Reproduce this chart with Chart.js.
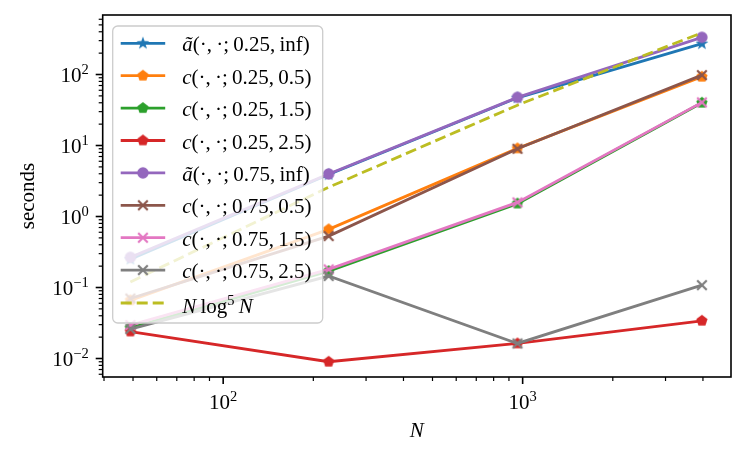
<!DOCTYPE html>
<html>
<head>
<meta charset="utf-8">
<script src="https://cdn.jsdelivr.net/npm/chart.js@4.4.1/dist/chart.umd.min.js"></script>
<style>
html, body { margin: 0; padding: 0; background: #fff; }
#plot { display: block; }
</style>
</head>
<body>
<canvas id="plot" width="747" height="456"></canvas>
<script>
// problem sizes N
var sizes = [49, 225, 961, 3969];

// timings in seconds, one array per curve
var aTilde025 = [0.25, 3.9, 47, 272];
var c025_05 = [0.066, 0.66, 9.1, 93];
var c025_15 = [0.027, 0.17, 1.52, 40];
var c025_25 = [0.024, 0.0090, 0.0163, 0.034];
var aTilde075 = [0.266, 3.97, 47.7, 334];
var c075_05 = [0.070, 0.53, 9.0, 98];
var c075_15 = [0.0296, 0.18, 1.58, 40.5];
var c075_25 = [0.026, 0.145, 0.0163, 0.108];
var nLog5N = [0.12, 2.58, 37, 388];

// axis ticks (labels are 10^exp)
var xTickValues = [100, 1000];
var xTickExps = ["2", "3"];
var yTickValues = [0.01, 0.1, 1, 10, 100];
var yTickExps = ["\u22122", "\u22121", "0", "1", "2"];

var FONT = '"Liberation Serif", "DejaVu Serif", serif';
var FS = 21;
var SUP = 14.5;

function makeMarker(kind, color) {
    var c = document.createElement("canvas");
    c.width = 18; c.height = 18;
    var g = c.getContext("2d");
    g.translate(9, 9);
    g.fillStyle = color;
    g.strokeStyle = color;
    g.lineJoin = "miter";
    var i, a, r;
    if (kind === "star") {
        g.beginPath();
        for (i = 0; i < 10; i++) {
            a = -Math.PI / 2 + i * Math.PI / 5;
            r = (i % 2 === 0) ? 6.8 : 2.7;
            g.lineTo(r * Math.cos(a), r * Math.sin(a));
        }
        g.closePath();
        g.fill();
    } else if (kind === "pentagon") {
        g.beginPath();
        for (i = 0; i < 5; i++) {
            a = -Math.PI / 2 + i * 2 * Math.PI / 5;
            g.lineTo(5.9 * Math.cos(a), 5.9 * Math.sin(a));
        }
        g.closePath();
        g.fill();
    } else if (kind === "circle") {
        g.beginPath();
        g.arc(0, 0, 5.7, 0, Math.PI * 2);
        g.fill();
    } else {
        g.lineWidth = 2.2;
        g.beginPath();
        g.moveTo(-4.8, -4.8); g.lineTo(4.8, 4.8);
        g.moveTo(-4.8, 4.8); g.lineTo(4.8, -4.8);
        g.stroke();
    }
    return c;
}

function serie(label, values, color, kind, parts) {
    return {
        label: label,
        data: sizes.map(function (n, i) { return { x: n, y: values[i] }; }),
        borderColor: color,
        backgroundColor: color,
        borderWidth: 2.8,
        pointStyle: kind ? makeMarker(kind, color) : false,
        pointRadius: kind ? 5 : 0,
        parts: parts,
        kind: kind
    };
}

var datasets = [
    serie("ã(·,·;0.25,inf)", aTilde025, "#1f77b4", "star", [["ã", 1], ["(·,\u2009·;\u20090.25,\u2009inf)", 0]]),
    serie("c(·,·;0.25,0.5)", c025_05, "#ff7f0e", "pentagon", [["c", 1], ["(·,\u2009·;\u20090.25,\u20090.5)", 0]]),
    serie("c(·,·;0.25,1.5)", c025_15, "#2ca02c", "pentagon", [["c", 1], ["(·,\u2009·;\u20090.25,\u20091.5)", 0]]),
    serie("c(·,·;0.25,2.5)", c025_25, "#d62728", "pentagon", [["c", 1], ["(·,\u2009·;\u20090.25,\u20092.5)", 0]]),
    serie("ã(·,·;0.75,inf)", aTilde075, "#9467bd", "circle", [["ã", 1], ["(·,\u2009·;\u20090.75,\u2009inf)", 0]]),
    serie("c(·,·;0.75,0.5)", c075_05, "#8c564b", "x", [["c", 1], ["(·,\u2009·;\u20090.75,\u20090.5)", 0]]),
    serie("c(·,·;0.75,1.5)", c075_15, "#e377c2", "x", [["c", 1], ["(·,\u2009·;\u20090.75,\u20091.5)", 0]]),
    serie("c(·,·;0.75,2.5)", c075_25, "#7f7f7f", "x", [["c", 1], ["(·,\u2009·;\u20090.75,\u20092.5)", 0]]),
    serie("N log^5 N", nLog5N, "#bcbd22", null, [["N", 1], ["\u2009log", 0], ["5", 2], ["\u2009", 0], ["N", 1]])
];
datasets[8].borderDash = [11, 5];
// later curves on top, like the original
datasets.forEach(function (d, i) { d.order = datasets.length - i; });

function setFont(ctx, kind) {
    if (kind === 1) ctx.font = "italic " + FS + "px " + FONT;
    else if (kind === 2) ctx.font = SUP + "px " + FONT;
    else ctx.font = FS + "px " + FONT;
}

function partsWidth(ctx, parts) {
    var w = 0;
    parts.forEach(function (p) { setFont(ctx, p[1]); w += ctx.measureText(p[0]).width; });
    return w;
}

function drawParts(ctx, parts, x, base) {
    parts.forEach(function (p) {
        setFont(ctx, p[1]);
        ctx.fillText(p[0], x, p[1] === 2 ? base - 8 : base);
        x += ctx.measureText(p[0]).width;
    });
}

var decor = {
    id: "decor",
    afterDraw: function (chart) {
        var ctx = chart.ctx;
        var area = chart.chartArea;
        var xs = chart.scales.x, ys = chart.scales.y;
        ctx.save();
        ctx.fillStyle = "#000";
        ctx.strokeStyle = "#000";
        ctx.textBaseline = "alphabetic";
        ctx.textAlign = "left";

        // minor and major ticks
        var d, k, v, p;
        for (d = -3; d <= 3; d++) {
            for (k = 1; k <= 9; k++) {
                v = k * Math.pow(10, d);
                if (v >= xs.min && v <= xs.max) {
                    p = xs.getPixelForValue(v);
                    ctx.lineWidth = k === 1 ? 1.6 : 1.2;
                    ctx.beginPath();
                    ctx.moveTo(p, area.bottom);
                    ctx.lineTo(p, area.bottom + (k === 1 ? 7 : 4));
                    ctx.stroke();
                }
                if (v >= ys.min && v <= ys.max) {
                    p = ys.getPixelForValue(v);
                    ctx.lineWidth = k === 1 ? 1.6 : 1.2;
                    ctx.beginPath();
                    ctx.moveTo(area.left, p);
                    ctx.lineTo(area.left - (k === 1 ? 7 : 4), p);
                    ctx.stroke();
                }
            }
        }

        // tick labels
        xTickValues.forEach(function (val, i) {
            var parts = [["10", 0], [xTickExps[i], 2]];
            var w = partsWidth(ctx, parts);
            drawParts(ctx, parts, xs.getPixelForValue(val) - w / 2, area.bottom + 32);
        });
        yTickValues.forEach(function (val, i) {
            var parts = [["10", 0], [yTickExps[i], 2]];
            var w = partsWidth(ctx, parts);
            drawParts(ctx, parts, area.left - 14 - w, ys.getPixelForValue(val) + 7.5);
        });

        // axis titles
        setFont(ctx, 1);
        ctx.textAlign = "center";
        ctx.fillText("N", (area.left + area.right) / 2, area.bottom + 60);
        setFont(ctx, 0);
        ctx.save();
        ctx.translate(34, (area.top + area.bottom) / 2);
        ctx.rotate(-Math.PI / 2);
        ctx.fillText("seconds", 0, 0);
        ctx.restore();
        ctx.textAlign = "left";

        // frame
        ctx.lineWidth = 1.6;
        ctx.strokeRect(area.left, area.top, area.right - area.left, area.bottom - area.top);

        // legend
        var lx = area.left + 10, ly = area.top + 11, lw = 210, lh = 297;
        ctx.beginPath();
        ctx.roundRect(lx, ly, lw, lh, 5);
        ctx.fillStyle = "rgba(255,255,255,0.8)";
        ctx.fill();
        ctx.lineWidth = 1.3;
        ctx.strokeStyle = "#cccccc";
        ctx.stroke();
        datasets.forEach(function (ds, i) {
            var ry = i < 8 ? ly + 17.3 + i * 32.4 : ly + 277;
            ctx.strokeStyle = ds.borderColor;
            ctx.lineWidth = ds.borderWidth;
            ctx.setLineDash(ds.borderDash || []);
            ctx.beginPath();
            ctx.moveTo(lx + 8, ry);
            ctx.lineTo(lx + 52.5, ry);
            ctx.stroke();
            ctx.setLineDash([]);
            if (ds.kind) {
                var img = ds.pointStyle;
                ctx.drawImage(img, lx + 30.2 - img.width / 2, ry - img.height / 2);
            }
            ctx.fillStyle = "#000";
            drawParts(ctx, ds.parts, lx + 69.5, ry + (i < 8 ? 8 : 10));
        });
        ctx.restore();
    }
};

new Chart(document.getElementById("plot").getContext("2d"), {
    type: "line",
    data: { datasets: datasets },
    options: {
        responsive: false,
        animation: false,
        events: [],
        layout: { padding: { left: 0, top: 15, right: 16, bottom: 0 } },
        plugins: { legend: { display: false }, tooltip: { enabled: false } },
        scales: {
            x: {
                type: "logarithmic",
                min: 39.6,
                max: 4963,
                grid: { display: false },
                border: { display: false },
                ticks: { display: false },
                afterFit: function (s) { s.height = 79; }
            },
            y: {
                type: "logarithmic",
                min: 0.00549,
                max: 689,
                grid: { display: false },
                border: { display: false },
                ticks: { display: false },
                afterFit: function (s) { s.width = 102.7; }
            }
        }
    },
    plugins: [decor]
});
</script>
</body>
</html>
